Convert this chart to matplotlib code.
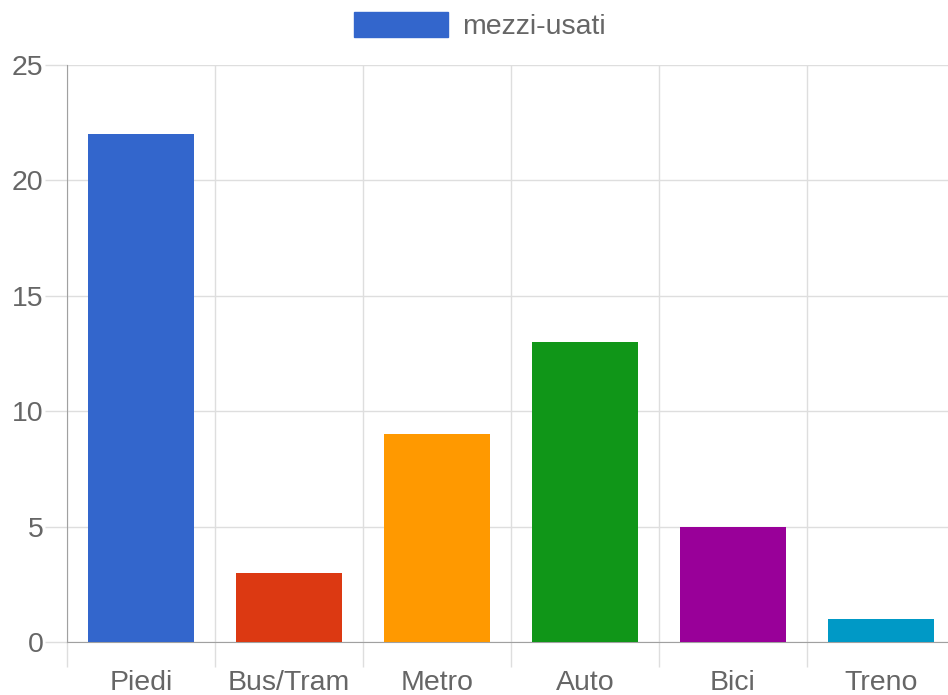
"""Bar chart: mezzi-usati per categoria. Saves out.png."""

import matplotlib

matplotlib.use("Agg")
import matplotlib.pyplot as plt
import numpy as np

plt.rcParams["font.family"] = ["Liberation Sans", "DejaVu Sans"]

categories = ["Piedi", "Bus/Tram", "Metro", "Auto", "Bici", "Treno"]
values = [22, 3, 9, 13, 5, 1]
colors = ["#3366cc", "#dc3912", "#ff9900", "#109618", "#990099", "#0099c6"]
series_name = "mezzi-usati"
y_ticks = [0, 5, 10, 15, 20, 25]

TEXT = "#666666"
GRID = "#dedede"
AXIS = "#a0a0a0"
FS = 20.5

fig = plt.figure(figsize=(9.48, 6.95), dpi=100)
# plot area runs a little past the right edge of the canvas, as in the source
ax = fig.add_axes([67 / 948, 1 - 642 / 695, 888 / 948, 577 / 695])

x = np.arange(len(categories))
ax.bar(x, values, width=0.72, color=colors, zorder=3)

ax.set_xlim(-0.5, len(categories) - 0.5)
ax.set_ylim(0, 25)

# horizontal grid + long left ticks
ax.set_yticks(y_ticks)
ax.set_yticklabels([str(t) for t in y_ticks], fontsize=FS, color=TEXT)
ax.tick_params(axis="y", length=16, width=1, color=GRID, pad=1)
ax.yaxis.grid(True, color=GRID, linewidth=1, zorder=0)

# category labels centred, gridlines at category boundaries
ax.set_xticks(x)
ax.set_xticklabels(categories, fontsize=FS, color=TEXT)
ax.tick_params(axis="x", which="major", length=0, pad=20)
ax.set_xticks(np.arange(len(categories) + 1) - 0.5, minor=True)
ax.tick_params(axis="x", which="minor", length=18, width=1, color=GRID)
ax.xaxis.grid(True, which="minor", color=GRID, linewidth=1, zorder=0)

for side in ("top", "right"):
    ax.spines[side].set_visible(False)
ax.spines["left"].set_color(AXIS)
ax.spines["bottom"].set_color(AXIS)

# legend uses the first bar colour, like the source
handle = plt.Rectangle((0, 0), 1, 1, color=colors[0])
fig.legend(
    [handle], [series_name],
    loc="center", bbox_to_anchor=(480 / 948, 1 - 26 / 695),
    frameon=False, fontsize=FS, handlelength=3.3, handleheight=0.95,
    handletextpad=0.5, labelcolor=TEXT,
)

fig.savefig("out.png", dpi=100)
